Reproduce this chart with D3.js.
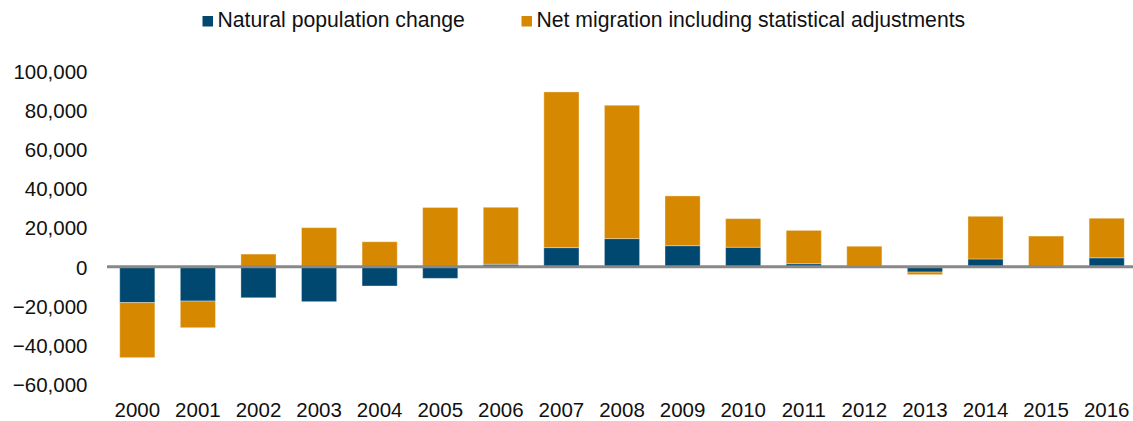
<!DOCTYPE html>
<html>
<head>
<meta charset="utf-8">
<script src="https://cdn.jsdelivr.net/npm/d3@7"></script>
<style>
  html, body { margin: 0; padding: 0; background: #fff; }
  svg { display: block; }
  text { font-family: "Liberation Sans", Arial, sans-serif; fill: #111; }
</style>
</head>
<body>
<svg id="chart" width="1133" height="421"></svg>
<script>
const years = ["2000","2001","2002","2003","2004","2005","2006","2007","2008","2009","2010","2011","2012","2013","2014","2015","2016"];
const naturalChange = [-18300,-17500,-15800,-17800,-9800,-5900,1300,9800,14400,10800,10000,1600,300,-2700,4000,200,4600];
const netMigration = [-28100,-13600,6500,20000,12800,30300,29100,79500,68100,25400,14600,17000,10200,-1300,21800,15500,20200];
const yTicks = [-60000,-40000,-20000,0,20000,40000,60000,80000,100000];
const seriesNames = ["Natural population change","Net migration including statistical adjustments"];
const seriesColors = ["#00486F","#D58800"];

const svg = d3.select("#chart");
const fontSize = 20.5;
const legendFontSize = 21.2;

const x = d3.scaleBand().domain(years).range([107, 1137]).paddingInner(0.42).paddingOuter(0.21);
const y = d3.scaleLinear().domain([-60000, 100000]).range([384.3, 71]);

const rows = years.map((yr, i) => ({year: yr, natural: naturalChange[i], migration: netMigration[i]}));
const stack = d3.stack().keys(["natural","migration"]).offset(d3.stackOffsetDiverging);
const stacked = stack(rows);

svg.append("g").selectAll("g").data(stacked).join("g")
  .attr("fill", (d, i) => seriesColors[i])
  .selectAll("rect").data(d => d).join("rect")
  .attr("x", d => x(d.data.year))
  .attr("width", x.bandwidth())
  .attr("y", d => y(Math.max(d[0], d[1])))
  .attr("height", d => Math.abs(y(d[0]) - y(d[1])))
  .attr("stroke", "rgba(255,255,255,0.35)")
  .attr("stroke-width", 1);

// Zero line
svg.append("line")
  .attr("x1", 107).attr("x2", 1133)
  .attr("y1", y(0)).attr("y2", y(0))
  .attr("stroke", "#888888").attr("stroke-width", 3);

// Y axis
const yAxis = d3.axisLeft(y).tickValues(yTicks).tickSize(0).tickPadding(0)
  .tickFormat(d3.format(","));
const gy = svg.append("g").attr("transform", "translate(87.5,0)").call(yAxis);
gy.select(".domain").remove();
gy.selectAll("text").attr("font-size", fontSize).attr("font-family", '"Liberation Sans", Arial, sans-serif').attr("fill", "#111").attr("dy", "0.35em");

// X axis
const xAxis = d3.axisBottom(x).tickSize(0).tickPadding(0);
const gx = svg.append("g").attr("transform", "translate(0,402)").call(xAxis);
gx.select(".domain").remove();
gx.selectAll("text").attr("font-size", fontSize).attr("font-family", '"Liberation Sans", Arial, sans-serif').attr("fill", "#111").attr("dy", "0.71em");

// Legend
const legendPos = [{sx: 202.5, tx: 217.5}, {sx: 521.5, tx: 536.5}];
const lg = svg.append("g");
seriesNames.forEach((name, i) => {
  lg.append("rect").attr("x", legendPos[i].sx).attr("y", 16).attr("width", 10.5).attr("height", 10.5).attr("fill", seriesColors[i]);
  lg.append("text").attr("x", legendPos[i].tx).attr("y", 27.3).attr("font-size", legendFontSize).text(name);
});
</script>
</body>
</html>
